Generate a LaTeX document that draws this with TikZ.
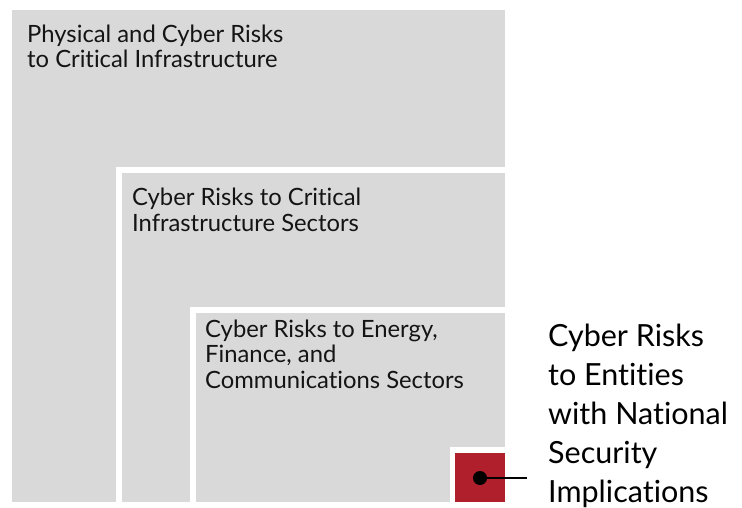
\documentclass[tikz,border=0pt]{standalone}
\usepackage{fontspec}
\setmainfont{Lato}[Ligatures=NoCommon]
\definecolor{boxgray}{RGB}{217,217,217}
\definecolor{riskred}{RGB}{176,31,44}
\definecolor{txt}{RGB}{20,20,20}
\begin{document}
\begin{tikzpicture}[x=1pt,y=-1pt,
  frame/.style={fill=white,draw=none,inner sep=0pt,anchor=north west},
  panel/.style={fill=boxgray,draw=none,inner sep=0pt,anchor=north west},
  lbl/.style={inner sep=0pt,anchor=base west,align=left,text=txt,font=\fontsize{23.8}{25.5}\selectfont},
  biglbl/.style={inner sep=0pt,anchor=base west,align=left,text=black,font=\fontsize{30.5}{39}\selectfont}]
\useasboundingbox[fill=white] (0,0) rectangle (742,508);
% outer
\node[panel,minimum width=493pt,minimum height=492pt] (outer) at (12,10) {};
% level 2
\node[frame,minimum width=389pt,minimum height=335pt] (f2) at (116,167) {};
\node[panel,minimum width=383pt,minimum height=329pt] (p2) at (122,173) {};
% level 3
\node[frame,minimum width=315pt,minimum height=195pt] (f3) at (190,307) {};
\node[panel,minimum width=309pt,minimum height=189pt] (p3) at (196,313) {};
% red
\node[frame,minimum width=55pt,minimum height=55pt] (f4) at (450,447) {};
\node[fill=riskred,draw=none,inner sep=0pt,anchor=north west,minimum width=50pt,minimum height=49pt] (red) at (455,453) {};
% texts (anchor = baseline of last line)
\node[lbl] (t1) at (27,68) {Physical and Cyber Risks\\to Critical Infrastructure};
\node[lbl] (t2) at (132,231) {Cyber Risks to Critical\\Infrastructure Sectors};
\node[lbl] (t3) at (205,388) {Cyber Risks to Energy,\\Finance, and\\Communications Sectors};
\node[biglbl] (t4) at (548,502) {Cyber Risks\\to Entities\\with National\\Security\\Implications};
% marker
\node[circle,fill=black,inner sep=0pt,minimum size=14pt] (dot) at (480,478) {};
\coordinate (lineend) at (527,478);
\draw[line width=1.5pt] (dot.center) -- (lineend);
\end{tikzpicture}
\end{document}
